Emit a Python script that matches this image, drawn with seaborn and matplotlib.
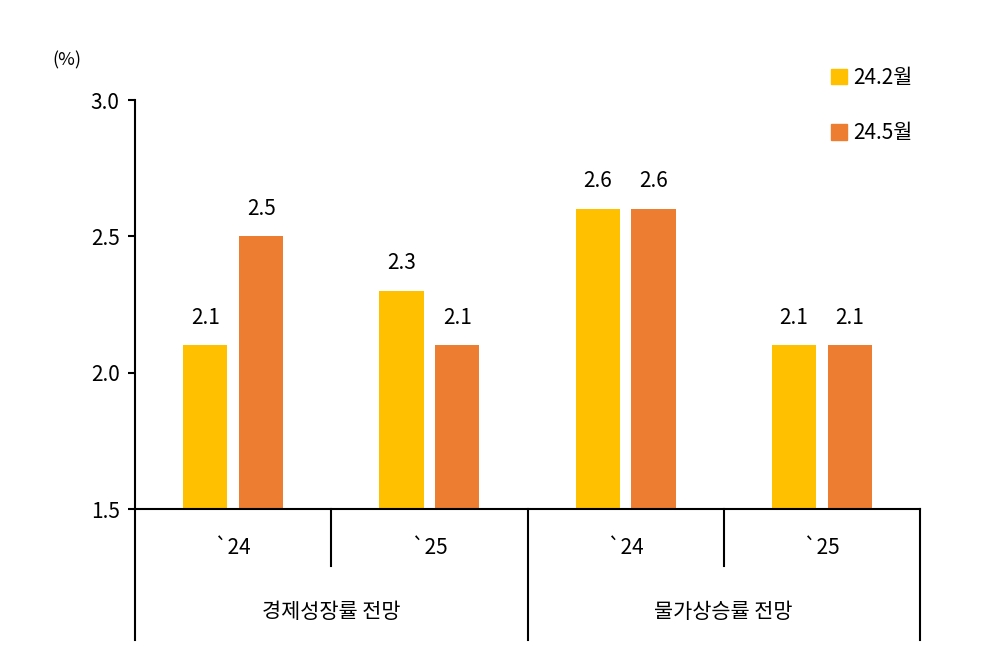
import matplotlib
matplotlib.use("Agg")
import matplotlib.pyplot as plt
import seaborn as sns
import pandas as pd

groups = ["경제성장률 전망", "물가상승률 전망"]
years = ["`24", "`25", "`24", "`25"]
slots = ["g1", "g2", "g3", "g4"]
feb = [2.1, 2.3, 2.6, 2.1]
may = [2.5, 2.1, 2.6, 2.1]
series = ["24.2월", "24.5월"]
colors = ["#FFC000", "#ED7D31"]

plt.rcParams["font.family"] = ["Noto Sans CJK KR", "Noto Sans CJK JP", "Noto Sans CJK SC", "DejaVu Sans"]
plt.rcParams["font.sans-serif"] = ["Noto Sans CJK KR", "Noto Sans CJK JP", "Noto Sans CJK SC", "DejaVu Sans"]
df = pd.DataFrame({"slot": slots * 2, "val": feb + may,
                   "series": [series[0]] * 4 + [series[1]] * 4})

fig = plt.figure(figsize=(9.98, 6.71), dpi=100)
ax = fig.add_axes([135/998, 1-509/671, 785/998, 409/671])
sns.barplot(data=df, x="slot", y="val", hue="series", palette=colors,
            width=0.57, gap=0.21, ax=ax, legend=False, saturation=1)
ax.set_xlim(-0.5, 3.5)
ax.set_ylim(1.5, 3.0)
ax.set_yticks([1.5, 2.0, 2.5, 3.0])
ax.set_yticklabels(["1.5", "2.0", "2.5", "3.0"], fontsize=15)
ax.tick_params(axis="y", length=5, width=1.5, direction="out", pad=6)
ax.set_xticks([])
ax.set_xlabel(""); ax.set_ylabel("")
for s in ["top", "right"]:
    ax.spines[s].set_visible(False)
for s in ["left", "bottom"]:
    ax.spines[s].set_linewidth(1.5)
for c in ax.containers:
    ax.bar_label(c, fmt="%.1f", fontsize=15, padding=12)

fig.text(52/998, 1-60/671, "(%)", fontsize=13, ha="left", va="center")

from matplotlib.lines import Line2D
tr = ax.get_xaxis_transform()
for x in [-0.5, 0.5, 1.5, 2.5, 3.5]:
    long = x in (-0.5, 1.5, 3.5)
    y1 = -0.32 if long else -0.14
    ax.add_line(Line2D([x, x], [0, y1], transform=tr, color="black", lw=1.5, clip_on=False))
for i, y in enumerate(years):
    ax.text(i, -0.095, y, transform=tr, ha="center", va="center", fontsize=15)
for i, g in enumerate(groups):
    ax.text(0.5 + 2*i, -0.252, g, transform=tr, ha="center", va="center", fontsize=15)

from matplotlib.patches import Patch
handles = [Patch(color=c) for c in colors]
fig.legend(handles, series, loc="upper left", bbox_to_anchor=(812/998, 1-48/671),
           frameon=False, fontsize=15, handlelength=0.8, handleheight=0.8,
           handletextpad=0.3, labelspacing=1.6)
fig.savefig("out.png", dpi=100)
